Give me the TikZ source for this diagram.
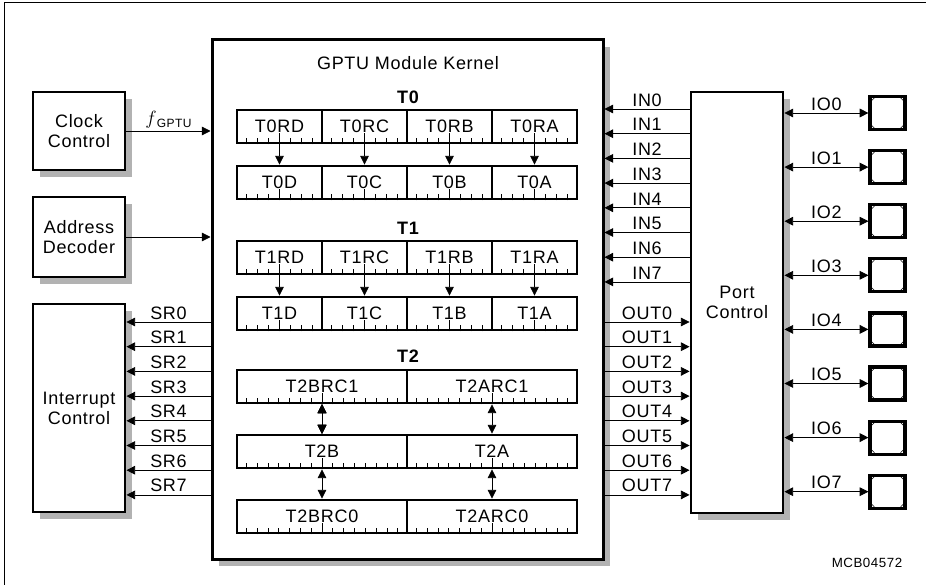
\documentclass[tikz,border=0pt]{standalone}
\usepackage{fontspec}
\setmainfont{Liberation Sans}[LetterSpace=4]
\usetikzlibrary{arrows.meta,calc,shadows}

\tikzset{
    txt/.style={font=\fontsize{13.5}{15}\selectfont},
    grp/.style={font=\fontsize{13.5}{15}\selectfont\bfseries},
    blk/.style={draw,line width=2.2pt,fill=white,align=center,txt,
        drop shadow={shadow xshift=5.5pt,shadow yshift=-5.5pt,fill=black!30,opacity=1}},
    reg/.style={draw,line width=2.2pt,fill=white,minimum height=24.75pt,inner sep=0pt,txt},
    sig/.style={line width=0.6pt,-{Triangle[length=6.5pt,width=6.5pt]}},
    bisig/.style={line width=0.6pt,{Triangle[length=6.5pt,width=6.5pt]}-{Triangle[length=6.5pt,width=6.5pt]}},
    lbl/.style={txt,inner sep=1.8pt,above},
    pad/.style={draw,line width=2.4pt,minimum width=26.25pt,minimum height=24.75pt,inner sep=0pt},
}

\newcommand\regticks[2]{%
    \foreach \k in {1,...,#2} {
        \pgfmathsetmacro\tl{ifthenelse(\k==(#2+1)/2,11,6)}
        \draw[line width=0.5pt] ($(#1.south west)!{\k/(#2+1)}!(#1.south east)$) -- ++(0,-\tl);
    }%
}

\begin{document}
\begin{tikzpicture}[x=0.75pt,y=-0.75pt]
            \def\dy{24.7}
            \def\dio{54.1}

            \useasboundingbox (0,0) rectangle (926,585);
            \draw[line width=0.75pt] (4,585) -- (4,3) -- (926,3);

            \node[blk,line width=2.25pt,minimum width=293.25pt,minimum height=389.25pt] (kern) at (407.5,299.5) {};
            \node[txt] (title) at (408,63) {GPTU Module Kernel};

            \node[blk,minimum width=69pt,minimum height=58.5pt] (clk) at (79,131) {Clock\\Control};
            \node[blk,minimum width=69pt,minimum height=60pt] (adr) at (79,237) {Address\\Decoder};
            \node[blk,minimum width=69pt,minimum height=156pt] (intc) at (79,408) {Interrupt\\Control};
            \node[blk,minimum width=69pt,minimum height=315.75pt] (port) at (737,302.5) {Port\\Control};

            \draw[sig] (clk.east) -- (clk.east -| kern.west) node[lbl,midway] (fgptu) {{\fontsize{15}{16}\selectfont$f$}\raisebox{-2pt}{\fontsize{9}{10}\selectfont GPTU}};
            \draw[sig] (adr.east) -- (adr.east -| kern.west);

            \node[grp] (lt0) at (408,97) {T0};
            \node[grp] (lt1) at (408,228) {T1};
            \node[grp] (lt2) at (408,356) {T2};

            \foreach \g/\yr in {0/126.5,1/257.5} {
                \foreach \c/\xc in {D/279.5,C/364.5,B/449.5,A/534.5} {
                    \node[reg,minimum width=63.75pt] (t\g r\c) at (\xc,\yr) {T\g R\c};
                    \node[reg,minimum width=63.75pt] (t\g\c) at (\xc,\yr+56) {T\g\c};
                    \regticks{t\g r\c}{7}
                    \regticks{t\g\c}{7}
                    \draw[sig] (t\g r\c) -- (t\g\c);
                }
            }

            \node[reg,minimum width=127.5pt] (t2brc1) at (322,386.5) {T2BRC1};
            \node[reg,minimum width=127.5pt] (t2arc1) at (492,386.5) {T2ARC1};
            \node[reg,minimum width=127.5pt] (t2b) at (322,451.5) {T2B};
            \node[reg,minimum width=127.5pt] (t2a) at (492,451.5) {T2A};
            \node[reg,minimum width=127.5pt] (t2brc0) at (322,516.5) {T2BRC0};
            \node[reg,minimum width=127.5pt] (t2arc0) at (492,516.5) {T2ARC0};
            \foreach \r in {t2brc1,t2arc1,t2b,t2a,t2brc0,t2arc0}
                \regticks{\r}{15}
            \draw[bisig] (t2brc1) -- (t2b);
            \draw[bisig] (t2arc1) -- (t2a);
            \draw[bisig] (t2b) -- (t2brc0);
            \draw[bisig] (t2a) -- (t2arc0);

            \foreach \i in {0,...,7} {
                \pgfmathsetmacro\ysr{322+\dy*\i}
                \pgfmathsetmacro\yin{109+\dy*\i}
                \pgfmathsetmacro\yio{113+\dio*\i}
                \draw[sig] (kern.west |- 0,\ysr) -- (intc.east |- 0,\ysr) node[lbl,midway] (sr\i) {SR\i};
                \draw[sig] (port.west |- 0,\yin) -- (kern.east |- 0,\yin) node[lbl,midway] (in\i) {IN\i};
                \draw[sig] (kern.east |- 0,\ysr) -- (port.west |- 0,\ysr) node[lbl,midway] (out\i) {OUT\i};
                \node[pad] (pad\i) at (887.5,\yio) {};
                \draw[line width=0.4pt] ($(pad\i.north west)+(3,6)$) -- ($(pad\i.north west)+(6,3)$);
                \draw[line width=0.4pt] ($(pad\i.north east)+(-3,6)$) -- ($(pad\i.north east)+(-6,3)$);
                \draw[line width=0.4pt] ($(pad\i.south west)+(3,-6)$) -- ($(pad\i.south west)+(6,-3)$);
                \draw[line width=0.4pt] ($(pad\i.south east)+(-3,-6)$) -- ($(pad\i.south east)+(-6,-3)$);
                \draw[bisig] (port.east |- pad\i) -- (pad\i) node[lbl,midway] (io\i) {IO\i};
            }

            \node[font=\fontsize{10}{12}\selectfont] (mcb) at (867,563) {MCB04572};
        \end{tikzpicture}
\end{document}
